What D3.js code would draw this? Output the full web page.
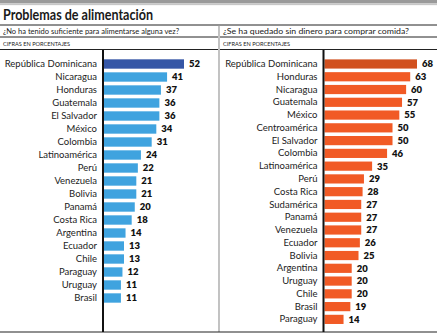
<!DOCTYPE html>
<html>
<head>
<meta charset="utf-8">
<script src="https://cdn.jsdelivr.net/npm/d3@7"></script>
<style>
  body { margin: 0; background: #fff; }
  svg { display: block; font-family: Lato, "Liberation Sans", sans-serif; }
</style>
</head>
<body>
<div id="container"></div>
<script>
const title = "Problemas de alimentación";
const leftQuestion = "¿No ha tenido suficiente para alimentarse alguna vez?";
const rightQuestion = "¿Se ha quedado sin dinero para comprar comida?";
const unitLabel = "CIFRAS EN PORCENTAJES";
const highlight = "República Dominicana";

const leftCategories = ["República Dominicana", "Nicaragua", "Honduras", "Guatemala", "El Salvador",
  "México", "Colombia", "Latinoamérica", "Perú", "Venezuela", "Bolivia", "Panamá", "Costa Rica",
  "Argentina", "Ecuador", "Chile", "Paraguay", "Uruguay", "Brasil"];
const leftValues = [52, 41, 37, 36, 36, 34, 31, 24, 22, 21, 21, 20, 18, 14, 13, 13, 12, 11, 11];

const rightCategories = ["República Dominicana", "Honduras", "Nicaragua", "Guatemala", "México",
  "Centroamérica", "El Salvador", "Colombia", "Latinoamérica", "Perú", "Costa Rica", "Sudamérica",
  "Panamá", "Venezuela", "Ecuador", "Bolivia", "Argentina", "Uruguay", "Chile", "Brasil", "Paraguay"];
const rightValues = [68, 63, 60, 57, 55, 50, 50, 46, 35, 29, 28, 27, 27, 27, 26, 25, 20, 20, 20, 19, 14];

const w = 437, h = 333;

let viz = d3.select("#container")
  .append("svg")
    .attr("width", w)
    .attr("height", h);

// header
viz.append("rect").attr("x", 0).attr("y", 0).attr("width", w).attr("height", 3.5).attr("fill", "#9a9a9a");
viz.append("rect").attr("x", 0).attr("y", 4.3).attr("width", w).attr("height", 0.8).attr("fill", "#b0b0b0");

viz.append("text")
  .text(title)
  .attr("x", 3).attr("y", 19.5)
  .attr("font-size", 14.5).attr("font-weight", 700)
  .attr("textLength", 150).attr("lengthAdjust", "spacingAndGlyphs")
  .attr("fill", "#1a1a1a");

viz.append("line").attr("x1", 0).attr("x2", w).attr("y1", 25).attr("y2", 25)
  .attr("stroke", "#222").attr("stroke-width", 1);

// panel divider
viz.append("line").attr("x1", 219).attr("x2", 219).attr("y1", 25).attr("y2", 332)
  .attr("stroke", "#9a9a9a").attr("stroke-width", 1.2);

// bottom rule
viz.append("line").attr("x1", 0).attr("x2", w).attr("y1", 332).attr("y2", 332)
  .attr("stroke", "#222").attr("stroke-width", 1.2);

function drawPanel(cfg){
  let g = viz.append("g");

  g.append("text").text(cfg.question)
    .attr("x", cfg.left + 3).attr("y", 34)
    .attr("font-size", 8).attr("fill", "#222")
    .attr("textLength", cfg.qWidth).attr("lengthAdjust", "spacingAndGlyphs");
  g.append("line").attr("x1", cfg.left).attr("x2", cfg.right).attr("y1", 37).attr("y2", 37)
    .attr("stroke", "#222").attr("stroke-width", 1);

  g.append("text").text(unitLabel)
    .attr("x", cfg.left + 3).attr("y", 46)
    .attr("font-size", 5.6).attr("fill", "#222");
  g.append("line").attr("x1", cfg.left).attr("x2", cfg.right).attr("y1", 49.5).attr("y2", 49.5)
    .attr("stroke", "#222").attr("stroke-width", 1);

  let x = d3.scaleLinear().domain([0, cfg.max]).range([cfg.x0, cfg.x1]);
  let y = d3.scaleBand()
    .domain(cfg.categories)
    .range([cfg.y0, cfg.y0 + cfg.step * cfg.categories.length])
    .paddingInner(0.28)
    .paddingOuter(0.14);

  let data = cfg.categories.map((c, i) => ({name: c, value: cfg.values[i]}));

  g.selectAll(".bar").data(data).enter()
    .append("rect")
      .attr("class", "bar")
      .attr("x", x(0))
      .attr("y", d => y(d.name))
      .attr("width", d => x(d.value) - x(0))
      .attr("height", y.bandwidth())
      .attr("fill", d => d.name == highlight ? cfg.dark : cfg.color);

  g.selectAll(".val").data(data).enter()
    .append("text")
      .attr("class", "val")
      .text(d => d.value)
      .attr("x", d => x(d.value) + 5)
      .attr("y", d => y(d.name) + y.bandwidth() / 2)
      .attr("dy", "0.36em")
      .attr("font-size", 9.5).attr("font-weight", 800)
      .attr("fill", "#111");

  let axis = g.append("g")
    .attr("transform", "translate(" + (x(0) - 1) + ",0)")
    .call(d3.axisLeft(y).tickSize(0).tickPadding(6));
  axis.select(".domain").remove();
  axis.selectAll("text")
    .attr("font-size", 9.5)
    .attr("font-family", "Lato, sans-serif")
    .attr("fill", "#222");

  g.append("line")
    .attr("x1", x(0) - 1).attr("x2", x(0) - 1)
    .attr("y1", 50).attr("y2", 332)
    .attr("stroke", "#111").attr("stroke-width", 2);
}

drawPanel({
  question: leftQuestion, qWidth: 176, left: 0, right: 218,
  categories: leftCategories, values: leftValues, max: 52,
  x0: 104, x1: 184, y0: 57.5, step: 13,
  color: "#3fa3df", dark: "#3556a6"
});

drawPanel({
  question: rightQuestion, qWidth: 186, left: 220, right: w,
  categories: rightCategories, values: rightValues, max: 68,
  x0: 324.5, x1: 417, y0: 57.6, step: 12.77,
  color: "#f15a25", dark: "#d1501f"
});
</script>
</body>
</html>
